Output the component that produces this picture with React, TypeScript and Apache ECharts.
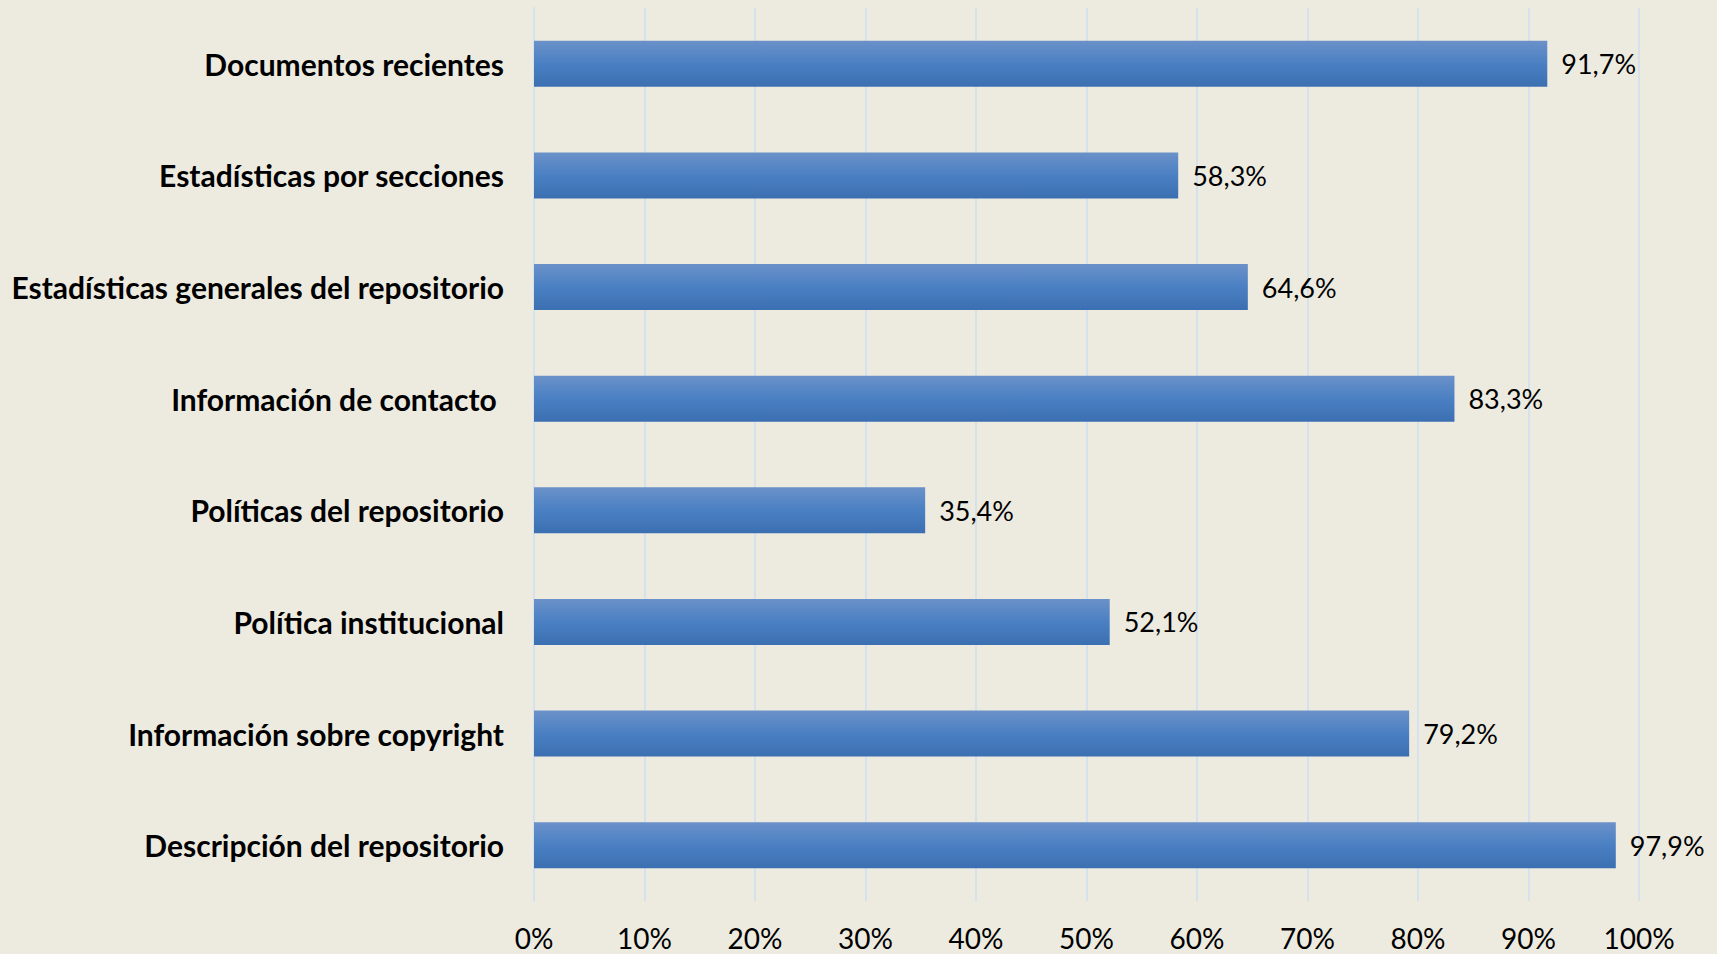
import React, { useEffect, useRef } from "react";
import * as echarts from "echarts";

const categories = [
  "Documentos recientes",
  "Estadísticas por secciones",
  "Estadísticas generales del repositorio",
  "Información de contacto ",
  "Políticas del repositorio",
  "Política institucional",
  "Información sobre copyright",
  "Descripción del repositorio",
];

const values = [91.7, 58.3, 64.6, 83.3, 35.4, 52.1, 79.2, 97.9];

const axisMin = 0;
const axisMax = 100;
const axisStep = 10;

const FONT = "Lato";

export default function App() {
  const ref = useRef<HTMLDivElement>(null);

  useEffect(() => {
    if (!ref.current) return;
    const chart = echarts.init(ref.current, null, { renderer: "svg" });
    chart.setOption({
      animation: false,
      backgroundColor: "#EDEBE0",
      grid: { left: 534, top: 8, width: 1105, height: 893, containLabel: false },
      xAxis: {
        type: "value",
        min: axisMin,
        max: axisMax,
        interval: axisStep,
        axisLine: { show: false },
        axisTick: { show: false },
        splitLine: { show: true, lineStyle: { color: "#D6E1EE", width: 2 } },
        axisLabel: {
          formatter: (v: number) => `${v}%`,
          color: "#000000",
          fontFamily: FONT,
          fontSize: 28,
          lineHeight: 30,
          margin: 22,
        },
      },
      yAxis: {
        type: "category",
        data: categories,
        inverse: true,
        axisLine: { show: true, lineStyle: { color: "#D6E1EE", width: 2 } },
        axisTick: { show: false },
        axisLabel: {
          color: "#000000",
          fontFamily: FONT,
          fontWeight: "bold",
          fontSize: 30,
          margin: 30,
        },
      },
      series: [
        {
          type: "bar",
          data: values,
          barWidth: 46,
          itemStyle: {
            color: new echarts.graphic.LinearGradient(0, 0, 0, 1, [
              { offset: 0, color: "#6B91C9" },
              { offset: 0.5, color: "#4A80C3" },
              { offset: 1, color: "#3B6FB2" },
            ]),
          },
          label: {
            show: true,
            position: "right",
            distance: 14,
            color: "#000000",
            fontFamily: FONT,
            fontSize: 27,
            formatter: (p: any) => `${p.value.toFixed(1).replace(".", ",")}%`,
          },
        },
      ],
    });
    return () => chart.dispose();
  }, []);

  return (
    <div
      ref={ref}
      style={{ position: "fixed", left: 0, top: 0, width: 1717, height: 954 }}
    />
  );
}
